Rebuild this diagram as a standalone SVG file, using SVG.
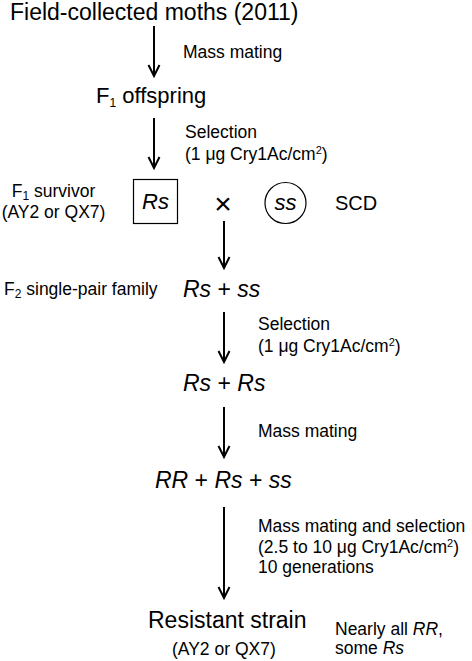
<svg xmlns="http://www.w3.org/2000/svg" width="472" height="661" viewBox="0 0 472 661">
<style>
text{font-family:"Liberation Sans",Arial,sans-serif;fill:#000}
.t{font-size:23px}
.l{font-size:17.5px}
.g{font-size:23px}
.i{font-style:italic}
.sub{font-size:12px}
.sup{font-size:11px}
.conn{stroke:#000;stroke-width:2;fill:none}
.shape{stroke:#000;stroke-width:1.2;fill:none}
</style>
<defs>
<marker id="ah" markerUnits="userSpaceOnUse" markerWidth="14" markerHeight="14" viewBox="-13 -7 14 14" refX="0" refY="0" orient="auto" overflow="visible">
<path d="M-11,-5.5 L0,0 L-11,5.5" fill="none" stroke="#000" stroke-width="2"/>
</marker>
</defs>
<rect width="472" height="661" fill="#fff"/>
<g id="connectors">
<line class="conn" x1="154" y1="26" x2="154" y2="76" marker-end="url(#ah)"/>
<line class="conn" x1="154" y1="118" x2="154" y2="168" marker-end="url(#ah)"/>
<line class="conn" x1="224" y1="221" x2="224" y2="268" marker-end="url(#ah)"/>
<line class="conn" x1="224" y1="312" x2="224" y2="362" marker-end="url(#ah)"/>
<line class="conn" x1="224" y1="407" x2="224" y2="457" marker-end="url(#ah)"/>
<line class="conn" x1="224" y1="507" x2="224" y2="598" marker-end="url(#ah)"/>
</g>
<g id="field">
<text class="t" x="10" y="20">Field-collected moths (2011)</text>
</g>
<g id="label-mass1"><text class="l" x="183" y="58">Mass mating</text></g>
<g id="f1">
<text x="96" y="103" font-size="22">F<tspan class="sub" dy="4">1</tspan><tspan dy="-4"> offspring</tspan></text>
</g>
<g id="label-sel1">
<text class="l" x="185" y="138">Selection</text>
<text class="l" x="185" y="160">(1 μg Cry1Ac/cm<tspan class="sup" dy="-6">2</tspan><tspan dy="6">)</tspan></text>
</g>
<g id="f1-survivor">
<text class="l" x="53.5" y="196.5" text-anchor="middle">F<tspan class="sub" dy="3">1</tspan><tspan dy="-3"> survivor</tspan></text>
<text class="l" x="53.5" y="218" text-anchor="middle">(AY2 or QX7)</text>
</g>
<g id="rs-box">
<rect class="shape" x="133.5" y="179.5" width="44" height="44"/>
<text class="i" x="155.5" y="209" font-size="22" text-anchor="middle">Rs</text>
</g>
<g id="cross">
<text x="223" y="213.5" font-size="30" text-anchor="middle">×</text>
</g>
<g id="ss-circle">
<circle class="shape" cx="285.5" cy="203" r="20.5"/>
<text class="i" x="285.5" y="210" font-size="22" text-anchor="middle">ss</text>
</g>
<g id="scd"><text x="335" y="210" font-size="20">SCD</text></g>
<g id="f2-label">
<text class="l" x="4" y="295">F<tspan class="sub" dy="3">2</tspan><tspan dy="-3"> single-pair family</tspan></text>
</g>
<g id="f2">
<text class="g" x="183" y="297"><tspan class="i">Rs</tspan> + <tspan class="i">ss</tspan></text>
</g>
<g id="label-sel2">
<text class="l" x="258" y="330">Selection</text>
<text class="l" x="258" y="352">(1 μg Cry1Ac/cm<tspan class="sup" dy="-6">2</tspan><tspan dy="6">)</tspan></text>
</g>
<g id="rsrs">
<text class="g" x="183" y="391"><tspan class="i">Rs</tspan> + <tspan class="i">Rs</tspan></text>
</g>
<g id="label-mass2"><text class="l" x="258" y="437">Mass mating</text></g>
<g id="rr-rs-ss">
<text class="g" x="155" y="488"><tspan class="i">RR</tspan> + <tspan class="i">Rs</tspan> + <tspan class="i">ss</tspan></text>
</g>
<g id="label-sel3">
<text class="l" x="258" y="532">Mass mating and selection</text>
<text class="l" x="258" y="552.5">(2.5 to 10 μg Cry1Ac/cm<tspan class="sup" dy="-6">2</tspan><tspan dy="6">)</tspan></text>
<text class="l" x="258" y="572.5">10 generations</text>
</g>
<g id="resistant">
<text class="t" x="148" y="628">Resistant strain</text>
<text x="172" y="655" font-size="17.5">(AY2 or QX7)</text>
</g>
<g id="note">
<text class="l" x="335" y="634.5">Nearly all <tspan class="i">RR</tspan>,</text>
<text class="l" x="335" y="653.5">some <tspan class="i">Rs</tspan></text>
</g>
</svg>
